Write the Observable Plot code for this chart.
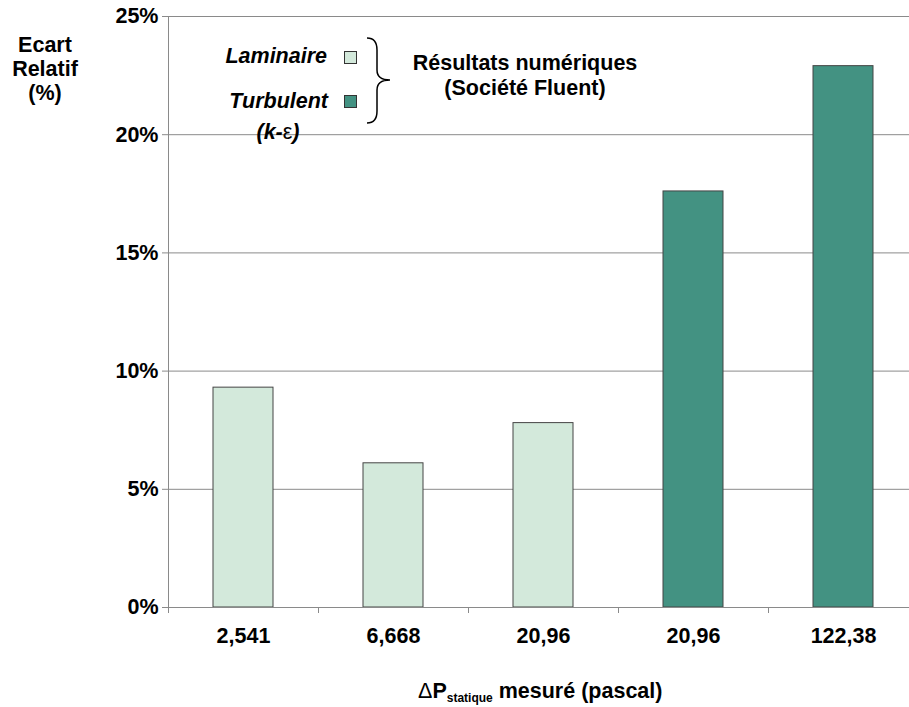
<!DOCTYPE html>
<html><head><meta charset="utf-8">
<script src="https://cdn.jsdelivr.net/npm/d3@7"></script>
<script src="https://cdn.jsdelivr.net/npm/@observablehq/plot@0.6"></script>
<style>
body{margin:0;background:#fff}
svg{font-family:"Liberation Sans",Arial,sans-serif}
</style>
</head><body><div id="chart"></div>
<script>
const categories = ["2,541", "6,668", "20,96", "20,96", "122,38"];
const values = [9.3, 6.1, 7.8, 17.6, 22.9];
const regimes = ["Laminaire", "Laminaire", "Laminaire", "Turbulent", "Turbulent"];
const regimeNames = ["Laminaire", "Turbulent"];
const regimeColors = ["#d3e9db", "#439282"];
const yTicks = [0, 5, 10, 15, 20, 25];

const data = categories.map((c, i) => ({i, category: c, value: values[i], regime: regimes[i]}));

const font = "Liberation Sans, Arial, sans-serif";
const fs = 21.5;
const plot = Plot.plot({
  width: 909, height: 707,
  marginLeft: 168, marginRight: 0, marginTop: 16, marginBottom: 100,
  style: {fontFamily: font, background: "white", color: "black"},
  x: {type: "linear", domain: [0, categories.length], range: [168, 918]},
  y: {domain: [0, 25]},
  color: {domain: regimeNames, range: regimeColors},
  marks: [
    Plot.ruleY(yTicks.slice(1), {stroke: "#8a8a8a", strokeWidth: 1}),
    Plot.rectY(data, {x1: d => d.i + 0.3, x2: d => d.i + 0.7, y1: 0, y2: "value", fill: "regime", stroke: "#454545", strokeWidth: 1}),
    Plot.ruleX([0], {y1: 0, y2: 25, stroke: "#8a8a8a"}),
    Plot.ruleY([0], {stroke: "#8a8a8a"}),
    Plot.axisY({ticks: yTicks, tickFormat: d => d + "%", tickSize: 6, tickPadding: 4, fontSize: fs, fontWeight: "bold", label: null, stroke: "#8a8a8a", fill: "black"}),
    Plot.axisX({ticks: d3.range(categories.length + 1), tickFormat: () => "", tickSize: 6, label: null, stroke: "#8a8a8a"}),
    Plot.axisX({ticks: categories.map((c, i) => i + 0.5), tickFormat: d => categories[Math.floor(d)], tickSize: 0, tickPadding: 20, fontSize: fs, fontWeight: "bold", label: null, fill: "black"})
  ]
});
document.getElementById("chart").appendChild(plot);

const svg = d3.select(plot);
const g = svg.append("g").attr("font-family", font).attr("font-weight", "bold").attr("font-size", fs).attr("fill", "black").attr("text-anchor", "start");

// Y axis title
[["Ecart", 52], ["Relatif", 76], ["(%)", 100]].forEach(([t, y]) => {
  g.append("text").attr("x", 45).attr("y", y).attr("text-anchor", "middle").text(t);
});

// Legend
g.append("text").attr("x", 327).attr("y", 63).attr("text-anchor", "end").attr("font-style", "italic").text(regimeNames[0]);
g.append("text").attr("x", 328).attr("y", 108).attr("text-anchor", "end").attr("font-style", "italic").text(regimeNames[1]);
const kt = g.append("text").attr("x", 278).attr("y", 139).attr("text-anchor", "middle").attr("font-style", "italic");
kt.append("tspan").text("(k-");
kt.append("tspan").attr("font-weight", "normal").attr("font-style", "normal").text("ε");
kt.append("tspan").text(")");
g.append("rect").attr("x", 344.5).attr("y", 51.5).attr("width", 12).attr("height", 12).attr("fill", regimeColors[0]).attr("stroke", "#333").attr("stroke-width", 1);
g.append("rect").attr("x", 344.5).attr("y", 95.5).attr("width", 12).attr("height", 12).attr("fill", regimeColors[1]).attr("stroke", "#333").attr("stroke-width", 1);

// Brace
g.append("path")
  .attr("d", "M367,38 Q377,38 377,50 L377,70 Q377,80 390,80 Q377,80 377,90 L377,111 Q377,123 367,123")
  .attr("fill", "none").attr("stroke", "black").attr("stroke-width", 1.5);

g.append("text").attr("x", 525).attr("y", 70).attr("text-anchor", "middle").text("Résultats numériques");
g.append("text").attr("x", 525).attr("y", 95).attr("text-anchor", "middle").text("(Société Fluent)");

// X axis title
const xt = g.append("text").attr("x", 418).attr("y", 698).attr("text-anchor", "start");
xt.append("tspan").attr("font-weight", "normal").text("Δ");
xt.append("tspan").text("P");
xt.append("tspan").attr("font-size", 12).attr("dy", 4).text("statique");
xt.append("tspan").attr("dy", -4).text(" mesuré (pascal)");
</script>
</body></html>
